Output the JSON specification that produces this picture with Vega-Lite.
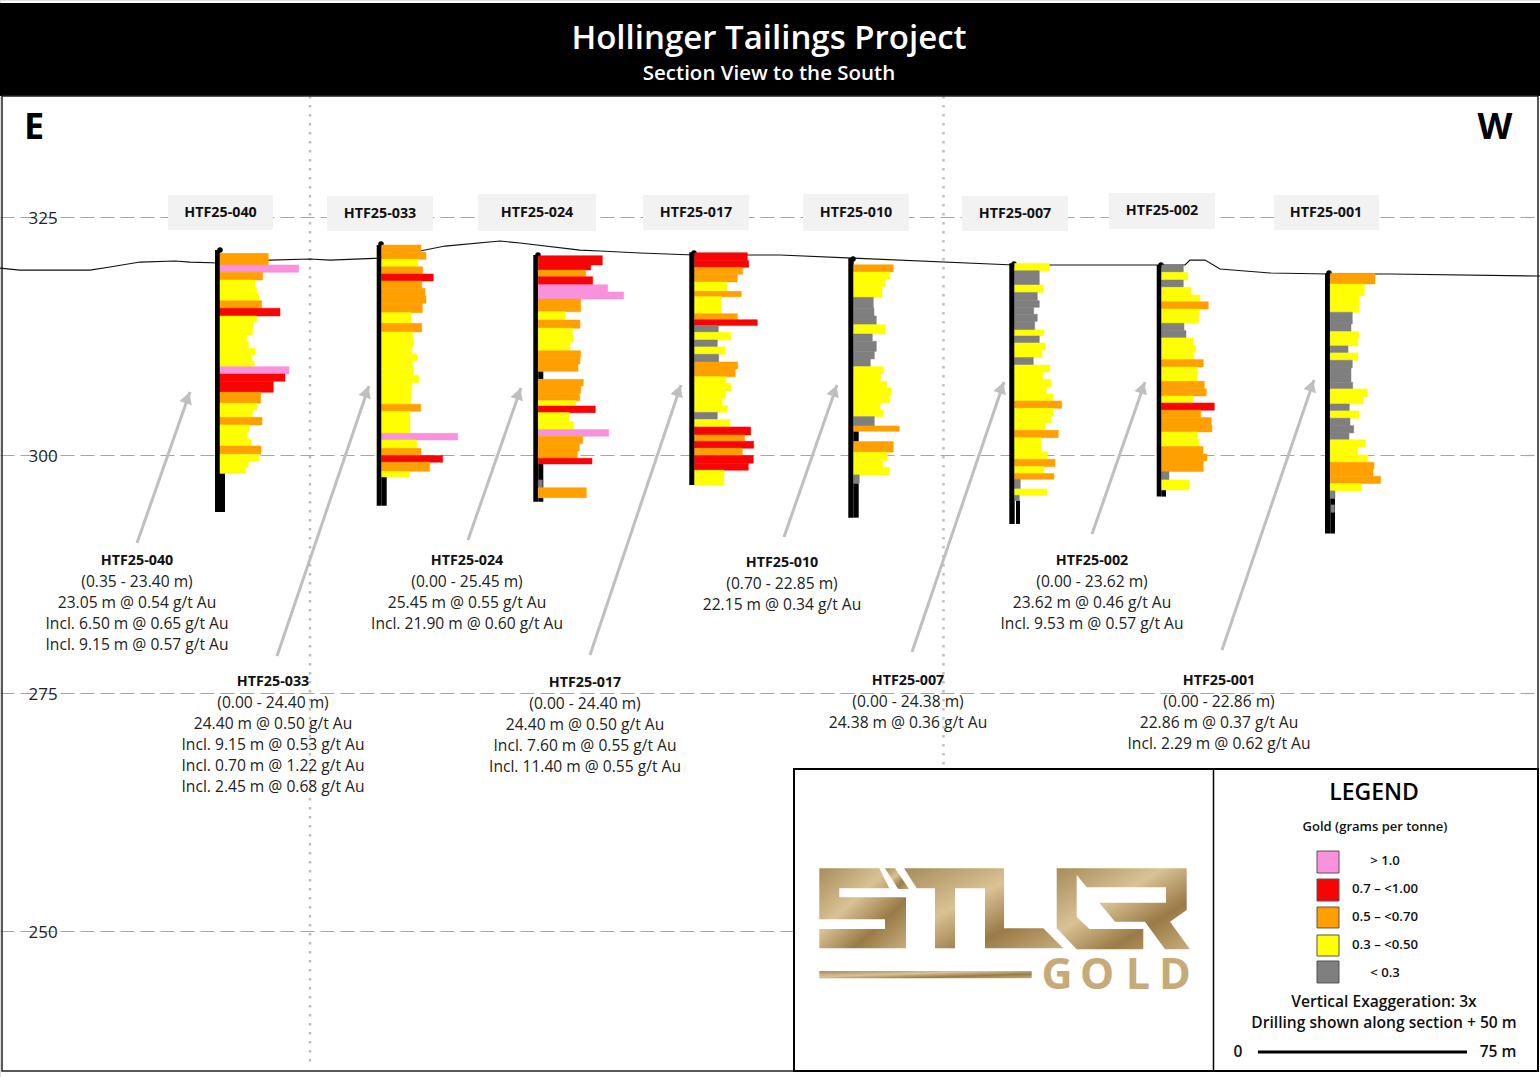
{"$schema":"https://vega.github.io/schema/vega-lite/v6.json","width":1540,"height":1077,"padding":0,"autosize":{"type":"none"},"background":"white",
"encoding":{"x":{"field":"x","type":"quantitative","scale":{"domain":[0,1540],"nice":false,"zero":false},"axis":null},"y":{"field":"e","type":"quantitative","scale":{"domain":[234.664,347.794],"nice":false,"zero":false},"axis":{"title":null,"values":[250,275,300,325],"orient":"left","domain":false,"ticks":false,"labels":true,"labelAlign":"left","labelPadding":-28,"labelOffset":1.5,"labelFont":"Open Sans","labelFontSize":17,"labelColor":"#222","grid":true,"gridColor":"#a6a6a6","gridWidth":1.2,"gridDash":[14,6]}}},
"layer":[
{"data":{"values":[{"x":310,"e":337.7,"e2":235.9},{"x":943.5,"e":337.7,"e2":267}]},"mark":{"type":"rule","color":"#bdbdbd","strokeWidth":2.5,"strokeDash":[2.5,6.5]},"encoding":{"y2":{"field":"e2"}}},
{"data":{"values":[{"x":0,"e":319.64},{"x":20,"e":319.43},{"x":90,"e":319.43},{"x":110,"e":319.75},{"x":140,"e":320.27},{"x":175,"e":320.38},{"x":190,"e":320.27},{"x":220,"e":320.17},{"x":270,"e":320.48},{"x":310,"e":320.59},{"x":330,"e":320.48},{"x":380,"e":320.69},{"x":395,"e":321.32},{"x":420,"e":321.43},{"x":445,"e":321.95},{"x":500,"e":322.48},{"x":520,"e":322.27},{"x":580,"e":321.53},{"x":600,"e":321.43},{"x":640,"e":321.22},{"x":694,"e":321.01},{"x":780,"e":321.01},{"x":853,"e":320.69},{"x":1014,"e":319.96},{"x":1160,"e":319.96},{"x":1185,"e":319.96},{"x":1190,"e":320.48},{"x":1205,"e":320.48},{"x":1220,"e":319.54},{"x":1270,"e":319.12},{"x":1329,"e":319.01},{"x":1390,"e":319.01},{"x":1540,"e":318.8}]},"mark":{"type":"line","color":"#111","strokeWidth":1.2}},
{"data":{"values":[{"x":168,"x2":273,"e":327.31,"e2":323.63},{"x":327,"x2":433,"e":327.21,"e2":323.53},{"x":478,"x2":596,"e":327.42,"e2":323.53},{"x":643,"x2":749,"e":327.31,"e2":323.63},{"x":803,"x2":909,"e":327.42,"e2":323.53},{"x":962,"x2":1068,"e":327.21,"e2":323.53},{"x":1109,"x2":1215,"e":327.52,"e2":323.74},{"x":1274,"x2":1379,"e":327.31,"e2":323.63}]},"mark":{"type":"rect","color":"#f2f2f2"},"encoding":{"x2":{"field":"x2"},"y2":{"field":"e2"}}},
{"data":{"values":[{"x":215,"x2":220,"e":321.53,"e2":294.01},{"x":220,"x2":225,"e":298.08,"e2":294.01},{"x":376.7,"x2":381.7,"e":322.06,"e2":294.67},{"x":381.7,"x2":386.7,"e":297.7,"e2":294.67},{"x":533.3,"x2":538.3,"e":321.01,"e2":295.09},{"x":538.3,"x2":543.3,"e":308.79,"e2":307.95},{"x":538.3,"x2":543.3,"e":299.06,"e2":296.57},{"x":538.3,"x2":543.3,"e":295.52,"e2":295.09},{"x":689.3,"x2":694.7,"e":321.3,"e2":296.86},{"x":848.3,"x2":853.7,"e":320.66,"e2":293.42},{"x":853.7,"x2":858.7,"e":302.49,"e2":301.41},{"x":853.7,"x2":858.7,"e":297.03,"e2":293.42},{"x":1009.3,"x2":1014.7,"e":320.13,"e2":292.76},{"x":1016,"x2":1020,"e":295.21,"e2":292.76},{"x":1156.7,"x2":1161.7,"e":319.96,"e2":295.63},{"x":1161.7,"x2":1166,"e":296.33,"e2":295.63},{"x":1325,"x2":1330.3,"e":319.09,"e2":291.75},{"x":1330.3,"x2":1335,"e":295.46,"e2":291.75}]},"mark":{"type":"rect","color":"#000"},"encoding":{"x2":{"field":"x2"},"y2":{"field":"e2"}}},
{"data":{"values":[{"x":220,"e":321.53},{"x":381,"e":322.16},{"x":538,"e":321.01},{"x":694,"e":321.22},{"x":853,"e":320.59},{"x":1014,"e":320.06},{"x":1161,"e":319.96},{"x":1329,"e":319.12}]},"mark":{"type":"point","filled":true,"color":"#000","size":30,"opacity":1}},
{"data":{"values":[
{"x":220,"x2":268.3,"e":321.18,"e2":319.96,"g":"0.5-0.7"},{"x":220,"x2":298.7,"e":319.96,"e2":319.19,"g":">1.0"},{"x":220,"x2":262.7,"e":319.19,"e2":318.38,"g":"0.5-0.7"},{"x":220,"x2":255,"e":318.38,"e2":317.51,"g":"0.3-0.5"},{"x":220,"x2":256.7,"e":317.51,"e2":316.91,"g":"0.3-0.5"},{"x":220,"x2":259,"e":316.91,"e2":316.21,"g":"0.3-0.5"},{"x":220,"x2":261.7,"e":316.21,"e2":315.41,"g":"0.5-0.7"},{"x":220,"x2":280,"e":315.41,"e2":314.6,"g":"0.7-1"},{"x":220,"x2":256.7,"e":314.6,"e2":314.01,"g":"0.3-0.5"},{"x":220,"x2":253.3,"e":314.01,"e2":313.31,"g":"0.3-0.5"},{"x":220,"x2":252.3,"e":313.31,"e2":312.61,"g":"0.3-0.5"},{"x":220,"x2":246.7,"e":312.61,"e2":311.91,"g":"0.3-0.5"},{"x":220,"x2":248.3,"e":311.91,"e2":311.21,"g":"0.3-0.5"},{"x":220,"x2":255,"e":311.21,"e2":310.51,"g":"0.3-0.5"},{"x":220,"x2":251.7,"e":310.51,"e2":309.88,"g":"0.3-0.5"},{"x":220,"x2":254.3,"e":309.88,"e2":309.28,"g":"0.3-0.5"},{"x":220,"x2":289,"e":309.28,"e2":308.51,"g":">1.0"},{"x":220,"x2":285,"e":308.51,"e2":307.74,"g":"0.7-1"},{"x":220,"x2":273.3,"e":307.74,"e2":306.59,"g":"0.7-1"},{"x":220,"x2":260.7,"e":306.59,"e2":305.43,"g":"0.5-0.7"},{"x":220,"x2":256.7,"e":305.43,"e2":304.73,"g":"0.3-0.5"},{"x":220,"x2":252.3,"e":304.73,"e2":303.96,"g":"0.3-0.5"},{"x":220,"x2":262,"e":303.96,"e2":303.16,"g":"0.5-0.7"},{"x":220,"x2":249.3,"e":303.16,"e2":302.46,"g":"0.3-0.5"},{"x":220,"x2":247.3,"e":302.46,"e2":301.68,"g":"0.3-0.5"},{"x":220,"x2":251,"e":301.68,"e2":300.95,"g":"0.3-0.5"},{"x":220,"x2":261,"e":300.95,"e2":300.08,"g":"0.5-0.7"},{"x":220,"x2":258.7,"e":300.08,"e2":299.38,"g":"0.3-0.5"},{"x":220,"x2":248.3,"e":299.38,"e2":298.68,"g":"0.3-0.5"},{"x":220,"x2":245.7,"e":298.68,"e2":298.08,"g":"0.3-0.5"},
{"x":381.7,"x2":421,"e":322.06,"e2":321.29,"g":"0.5-0.7"},{"x":381.7,"x2":426,"e":321.29,"e2":320.55,"g":"0.5-0.7"},{"x":381.7,"x2":417.7,"e":320.55,"e2":319.78,"g":"0.3-0.5"},{"x":381.7,"x2":422.7,"e":319.78,"e2":319.01,"g":"0.5-0.7"},{"x":381.7,"x2":433.3,"e":319.01,"e2":318.28,"g":"0.7-1"},{"x":381.7,"x2":421.7,"e":318.28,"e2":317.51,"g":"0.5-0.7"},{"x":381.7,"x2":425,"e":317.51,"e2":316.74,"g":"0.5-0.7"},{"x":381.7,"x2":426,"e":316.74,"e2":315.93,"g":"0.5-0.7"},{"x":381.7,"x2":422.3,"e":315.93,"e2":314.95,"g":"0.5-0.7"},{"x":381.7,"x2":411,"e":314.95,"e2":313.83,"g":"0.3-0.5"},{"x":381.7,"x2":421.7,"e":313.83,"e2":312.92,"g":"0.5-0.7"},{"x":381.7,"x2":412.7,"e":312.92,"e2":312.15,"g":"0.3-0.5"},{"x":381.7,"x2":413.3,"e":312.15,"e2":311.38,"g":"0.3-0.5"},{"x":381.7,"x2":412,"e":311.38,"e2":310.61,"g":"0.3-0.5"},{"x":381.7,"x2":416.7,"e":310.61,"e2":309.88,"g":"0.3-0.5"},{"x":381.7,"x2":412.3,"e":309.88,"e2":309.11,"g":"0.3-0.5"},{"x":381.7,"x2":413.3,"e":309.11,"e2":308.37,"g":"0.3-0.5"},{"x":381.7,"x2":418.7,"e":308.37,"e2":307.6,"g":"0.3-0.5"},{"x":381.7,"x2":411.7,"e":307.6,"e2":306.83,"g":"0.3-0.5"},{"x":381.7,"x2":410.7,"e":306.83,"e2":306.06,"g":"0.3-0.5"},{"x":381.7,"x2":410.7,"e":306.06,"e2":305.33,"g":"0.3-0.5"},{"x":381.7,"x2":420.7,"e":305.33,"e2":304.59,"g":"0.5-0.7"},{"x":381.7,"x2":410,"e":304.59,"e2":303.85,"g":"0.3-0.5"},{"x":381.7,"x2":410,"e":303.85,"e2":303.05,"g":"0.3-0.5"},{"x":381.7,"x2":410,"e":303.05,"e2":302.28,"g":"0.3-0.5"},{"x":381.7,"x2":457.7,"e":302.28,"e2":301.58,"g":">1.0"},{"x":381.7,"x2":416.7,"e":301.58,"e2":300.71,"g":"0.3-0.5"},{"x":381.7,"x2":421,"e":300.71,"e2":299.94,"g":"0.5-0.7"},{"x":381.7,"x2":442.7,"e":299.94,"e2":299.24,"g":"0.7-1"},{"x":381.7,"x2":429.7,"e":299.24,"e2":298.29,"g":"0.5-0.7"},{"x":381.7,"x2":409.3,"e":298.29,"e2":297.7,"g":"0.3-0.5"},
{"x":538.3,"x2":602.3,"e":320.94,"e2":319.96,"g":"0.7-1"},{"x":538.3,"x2":590.7,"e":319.96,"e2":319.43,"g":"0.7-1"},{"x":538.3,"x2":585.7,"e":319.43,"e2":318.73,"g":"0.5-0.7"},{"x":538.3,"x2":592.7,"e":318.73,"e2":317.89,"g":"0.7-1"},{"x":538.3,"x2":607.7,"e":317.89,"e2":317.12,"g":">1.0"},{"x":538.3,"x2":623.7,"e":317.12,"e2":316.38,"g":">1.0"},{"x":538.3,"x2":580.7,"e":316.38,"e2":315.05,"g":"0.5-0.7"},{"x":538.3,"x2":565,"e":315.05,"e2":314.18,"g":"0.3-0.5"},{"x":538.3,"x2":580,"e":314.18,"e2":313.31,"g":"0.5-0.7"},{"x":538.3,"x2":572.3,"e":313.31,"e2":312.61,"g":"0.3-0.5"},{"x":538.3,"x2":573.3,"e":312.61,"e2":311.84,"g":"0.3-0.5"},{"x":538.3,"x2":570,"e":311.84,"e2":310.96,"g":"0.3-0.5"},{"x":538.3,"x2":580.7,"e":310.96,"e2":310.26,"g":"0.5-0.7"},{"x":538.3,"x2":580,"e":310.26,"e2":309.56,"g":"0.5-0.7"},{"x":538.3,"x2":578,"e":309.56,"e2":308.79,"g":"0.5-0.7"},{"x":538.3,"x2":583.3,"e":307.95,"e2":307.25,"g":"0.5-0.7"},{"x":538.3,"x2":580.7,"e":307.25,"e2":306.48,"g":"0.5-0.7"},{"x":538.3,"x2":579.7,"e":306.48,"e2":305.71,"g":"0.5-0.7"},{"x":538.3,"x2":575.7,"e":305.71,"e2":305.15,"g":"0.3-0.5"},{"x":538.3,"x2":595.3,"e":305.15,"e2":304.45,"g":"0.7-1"},{"x":538.3,"x2":569.3,"e":304.45,"e2":303.51,"g":"0.3-0.5"},{"x":538.3,"x2":573.7,"e":303.51,"e2":302.67,"g":"0.3-0.5"},{"x":538.3,"x2":608.7,"e":302.67,"e2":301.97,"g":">1.0"},{"x":538.3,"x2":582.7,"e":301.97,"e2":301.19,"g":"0.5-0.7"},{"x":538.3,"x2":579.3,"e":301.19,"e2":300.42,"g":"0.5-0.7"},{"x":538.3,"x2":577.3,"e":300.42,"e2":299.65,"g":"0.5-0.7"},{"x":538.3,"x2":592,"e":299.65,"e2":299.06,"g":"0.7-1"},{"x":538.3,"x2":542.3,"e":297.38,"e2":296.57,"g":"<0.3"},{"x":538.3,"x2":586.3,"e":296.57,"e2":295.52,"g":"0.5-0.7"},
{"x":694.7,"x2":747.3,"e":321.25,"e2":320.41,"g":"0.7-1"},{"x":694.7,"x2":748.7,"e":320.41,"e2":319.71,"g":"0.7-1"},{"x":694.7,"x2":742.7,"e":319.71,"e2":318.98,"g":"0.5-0.7"},{"x":694.7,"x2":737.3,"e":318.98,"e2":318.17,"g":"0.5-0.7"},{"x":694.7,"x2":726.7,"e":318.17,"e2":317.19,"g":"0.3-0.5"},{"x":694.7,"x2":741.3,"e":317.19,"e2":316.63,"g":"0.5-0.7"},{"x":694.7,"x2":721.3,"e":316.63,"e2":315.69,"g":"0.3-0.5"},{"x":694.7,"x2":721.3,"e":315.69,"e2":314.85,"g":"0.3-0.5"},{"x":694.7,"x2":737.3,"e":314.85,"e2":314.22,"g":"0.5-0.7"},{"x":694.7,"x2":757.3,"e":314.22,"e2":313.59,"g":"0.7-1"},{"x":694.7,"x2":718.3,"e":313.59,"e2":312.89,"g":"<0.3"},{"x":694.7,"x2":730.7,"e":312.89,"e2":312.08,"g":"0.3-0.5"},{"x":694.7,"x2":717.3,"e":312.08,"e2":311.35,"g":"<0.3"},{"x":694.7,"x2":725,"e":311.35,"e2":310.58,"g":"0.3-0.5"},{"x":694.7,"x2":718.7,"e":310.58,"e2":309.77,"g":"<0.3"},{"x":694.7,"x2":737.7,"e":309.77,"e2":309.04,"g":"0.5-0.7"},{"x":694.7,"x2":735.3,"e":309.04,"e2":308.23,"g":"0.5-0.7"},{"x":694.7,"x2":726,"e":308.23,"e2":307.53,"g":"0.3-0.5"},{"x":694.7,"x2":730.7,"e":307.53,"e2":306.73,"g":"0.3-0.5"},{"x":694.7,"x2":725.7,"e":306.73,"e2":305.96,"g":"0.3-0.5"},{"x":694.7,"x2":722.3,"e":305.96,"e2":305.18,"g":"0.3-0.5"},{"x":694.7,"x2":727.3,"e":305.18,"e2":304.48,"g":"0.3-0.5"},{"x":694.7,"x2":717.3,"e":304.48,"e2":303.72,"g":"<0.3"},{"x":694.7,"x2":730,"e":303.72,"e2":302.95,"g":"0.3-0.5"},{"x":694.7,"x2":750.7,"e":302.95,"e2":302.11,"g":"0.7-1"},{"x":694.7,"x2":744.7,"e":302.11,"e2":301.44,"g":"0.5-0.7"},{"x":694.7,"x2":753.7,"e":301.44,"e2":300.71,"g":"0.7-1"},{"x":694.7,"x2":742.3,"e":300.71,"e2":299.94,"g":"0.5-0.7"},{"x":694.7,"x2":753.3,"e":299.94,"e2":299.14,"g":"0.7-1"},{"x":694.7,"x2":748.3,"e":299.14,"e2":298.4,"g":"0.7-1"},{"x":694.7,"x2":724,"e":298.4,"e2":296.86,"g":"0.3-0.5"},
{"x":853.7,"x2":893.3,"e":319.99,"e2":319.22,"g":"0.5-0.7"},{"x":853.7,"x2":890,"e":319.22,"e2":318.49,"g":"0.3-0.5"},{"x":853.7,"x2":885.3,"e":318.49,"e2":317.72,"g":"0.3-0.5"},{"x":853.7,"x2":882,"e":317.72,"e2":316.56,"g":"0.3-0.5"},{"x":853.7,"x2":873.3,"e":316.56,"e2":315.41,"g":"<0.3"},{"x":853.7,"x2":874,"e":315.41,"e2":314.6,"g":"<0.3"},{"x":853.7,"x2":876.3,"e":314.6,"e2":313.69,"g":"<0.3"},{"x":853.7,"x2":885.3,"e":313.69,"e2":312.71,"g":"0.3-0.5"},{"x":853.7,"x2":872.3,"e":312.71,"e2":311.94,"g":"<0.3"},{"x":853.7,"x2":876.3,"e":311.94,"e2":310.89,"g":"<0.3"},{"x":853.7,"x2":874.3,"e":310.89,"e2":310.09,"g":"<0.3"},{"x":853.7,"x2":870.3,"e":310.09,"e2":309.28,"g":"<0.3"},{"x":853.7,"x2":883.3,"e":309.28,"e2":308.51,"g":"0.3-0.5"},{"x":853.7,"x2":880.3,"e":308.51,"e2":307.74,"g":"0.3-0.5"},{"x":853.7,"x2":886.7,"e":307.74,"e2":307.04,"g":"0.3-0.5"},{"x":853.7,"x2":891.3,"e":307.04,"e2":306.27,"g":"0.3-0.5"},{"x":853.7,"x2":890,"e":306.27,"e2":305.5,"g":"0.3-0.5"},{"x":853.7,"x2":880,"e":305.5,"e2":304.73,"g":"0.3-0.5"},{"x":853.7,"x2":883,"e":304.73,"e2":304.03,"g":"0.3-0.5"},{"x":853.7,"x2":874.3,"e":304.03,"e2":303.05,"g":"<0.3"},{"x":853.7,"x2":899.3,"e":303.05,"e2":302.49,"g":"0.5-0.7"},{"x":853.7,"x2":893.3,"e":301.41,"e2":300.29,"g":"0.5-0.7"},{"x":853.7,"x2":887.3,"e":300.29,"e2":299.41,"g":"0.3-0.5"},{"x":853.7,"x2":882.7,"e":299.41,"e2":298.71,"g":"0.3-0.5"},{"x":853.7,"x2":889.3,"e":298.71,"e2":297.91,"g":"0.3-0.5"},{"x":853.7,"x2":859.3,"e":297.91,"e2":297.03,"g":"<0.3"},
{"x":1014.7,"x2":1049.3,"e":320.13,"e2":319.36,"g":"0.3-0.5"},{"x":1014.7,"x2":1039.3,"e":319.36,"e2":317.86,"g":"<0.3"},{"x":1014.7,"x2":1043.3,"e":317.86,"e2":317.08,"g":"0.3-0.5"},{"x":1014.7,"x2":1037.3,"e":317.08,"e2":316.21,"g":"<0.3"},{"x":1014.7,"x2":1039.3,"e":316.21,"e2":315.51,"g":"<0.3"},{"x":1014.7,"x2":1033.7,"e":315.51,"e2":314.78,"g":"<0.3"},{"x":1014.7,"x2":1037.3,"e":314.78,"e2":314.04,"g":"<0.3"},{"x":1014.7,"x2":1034.7,"e":314.04,"e2":313.13,"g":"<0.3"},{"x":1014.7,"x2":1043.7,"e":313.13,"e2":312.5,"g":"0.3-0.5"},{"x":1014.7,"x2":1039.3,"e":312.5,"e2":311.77,"g":"<0.3"},{"x":1014.7,"x2":1045.3,"e":311.77,"e2":311.03,"g":"0.3-0.5"},{"x":1014.7,"x2":1042,"e":311.03,"e2":310.23,"g":"0.3-0.5"},{"x":1014.7,"x2":1033.3,"e":310.23,"e2":309.46,"g":"<0.3"},{"x":1014.7,"x2":1050,"e":309.46,"e2":308.72,"g":"0.3-0.5"},{"x":1014.7,"x2":1042.7,"e":308.72,"e2":307.95,"g":"0.3-0.5"},{"x":1014.7,"x2":1051,"e":307.95,"e2":307.18,"g":"0.3-0.5"},{"x":1014.7,"x2":1046.3,"e":307.18,"e2":306.41,"g":"0.3-0.5"},{"x":1014.7,"x2":1052.7,"e":306.41,"e2":305.68,"g":"0.3-0.5"},{"x":1014.7,"x2":1061.7,"e":305.68,"e2":304.9,"g":"0.5-0.7"},{"x":1014.7,"x2":1053.3,"e":304.9,"e2":304.13,"g":"0.3-0.5"},{"x":1014.7,"x2":1051.3,"e":304.13,"e2":303.4,"g":"0.3-0.5"},{"x":1014.7,"x2":1045,"e":303.4,"e2":302.59,"g":"0.3-0.5"},{"x":1014.7,"x2":1058.3,"e":302.59,"e2":301.82,"g":"0.5-0.7"},{"x":1014.7,"x2":1041,"e":301.82,"e2":301.05,"g":"0.3-0.5"},{"x":1014.7,"x2":1041.7,"e":301.05,"e2":300.32,"g":"0.3-0.5"},{"x":1014.7,"x2":1047.3,"e":300.32,"e2":299.55,"g":"0.3-0.5"},{"x":1014.7,"x2":1055,"e":299.55,"e2":298.78,"g":"0.5-0.7"},{"x":1014.7,"x2":1044,"e":298.78,"e2":298.05,"g":"0.3-0.5"},{"x":1014.7,"x2":1054,"e":298.05,"e2":297.45,"g":"0.5-0.7"},{"x":1014.7,"x2":1020.3,"e":297.45,"e2":296.44,"g":"<0.3"},{"x":1014.7,"x2":1046.7,"e":296.44,"e2":295.77,"g":"0.3-0.5"},{"x":1014.7,"x2":1019.3,"e":295.77,"e2":295.21,"g":"<0.3"},
{"x":1161.7,"x2":1183.3,"e":319.96,"e2":319.19,"g":"<0.3"},{"x":1161.7,"x2":1187.7,"e":319.19,"e2":318.38,"g":"0.3-0.5"},{"x":1161.7,"x2":1183.3,"e":318.38,"e2":317.61,"g":"<0.3"},{"x":1161.7,"x2":1191,"e":317.61,"e2":316.81,"g":"0.3-0.5"},{"x":1161.7,"x2":1200,"e":316.81,"e2":316.11,"g":"0.3-0.5"},{"x":1161.7,"x2":1208.3,"e":316.11,"e2":315.34,"g":"0.5-0.7"},{"x":1161.7,"x2":1199.3,"e":315.34,"e2":314.54,"g":"0.3-0.5"},{"x":1161.7,"x2":1198.3,"e":314.54,"e2":313.84,"g":"0.3-0.5"},{"x":1161.7,"x2":1184,"e":313.84,"e2":313.07,"g":"<0.3"},{"x":1161.7,"x2":1186,"e":313.07,"e2":312.3,"g":"<0.3"},{"x":1161.7,"x2":1193.3,"e":312.3,"e2":311.56,"g":"0.3-0.5"},{"x":1161.7,"x2":1195.7,"e":311.56,"e2":310.79,"g":"0.3-0.5"},{"x":1161.7,"x2":1193.7,"e":310.79,"e2":310.02,"g":"0.3-0.5"},{"x":1161.7,"x2":1203.3,"e":310.02,"e2":309.25,"g":"0.5-0.7"},{"x":1161.7,"x2":1197.3,"e":309.25,"e2":308.48,"g":"0.3-0.5"},{"x":1161.7,"x2":1197.3,"e":308.48,"e2":307.74,"g":"0.3-0.5"},{"x":1161.7,"x2":1204.3,"e":307.74,"e2":306.97,"g":"0.5-0.7"},{"x":1161.7,"x2":1206.3,"e":306.97,"e2":306.2,"g":"0.5-0.7"},{"x":1161.7,"x2":1193.3,"e":306.2,"e2":305.47,"g":"0.3-0.5"},{"x":1161.7,"x2":1214.3,"e":305.47,"e2":304.7,"g":"0.7-1"},{"x":1161.7,"x2":1200.7,"e":304.7,"e2":303.93,"g":"0.5-0.7"},{"x":1161.7,"x2":1211.3,"e":303.93,"e2":303.16,"g":"0.5-0.7"},{"x":1161.7,"x2":1212,"e":303.16,"e2":302.42,"g":"0.5-0.7"},{"x":1161.7,"x2":1197.3,"e":302.42,"e2":301.65,"g":"0.3-0.5"},{"x":1161.7,"x2":1199.3,"e":301.65,"e2":300.88,"g":"0.3-0.5"},{"x":1161.7,"x2":1203,"e":300.88,"e2":300.11,"g":"0.5-0.7"},{"x":1161.7,"x2":1207,"e":300.11,"e2":299.38,"g":"0.5-0.7"},{"x":1161.7,"x2":1203.3,"e":299.38,"e2":298.26,"g":"0.5-0.7"},{"x":1161.7,"x2":1169,"e":298.26,"e2":297.38,"g":"<0.3"},{"x":1161.7,"x2":1189,"e":297.38,"e2":296.33,"g":"0.3-0.5"},
{"x":1330.3,"x2":1375,"e":319.09,"e2":317.96,"g":"0.5-0.7"},{"x":1330.3,"x2":1364.3,"e":317.96,"e2":316.74,"g":"0.3-0.5"},{"x":1330.3,"x2":1359.3,"e":316.74,"e2":315.83,"g":"0.3-0.5"},{"x":1330.3,"x2":1359,"e":315.83,"e2":314.99,"g":"0.3-0.5"},{"x":1330.3,"x2":1352.3,"e":314.99,"e2":313.77,"g":"<0.3"},{"x":1330.3,"x2":1351,"e":313.77,"e2":312.96,"g":"<0.3"},{"x":1330.3,"x2":1358.7,"e":312.96,"e2":312.26,"g":"0.3-0.5"},{"x":1330.3,"x2":1358,"e":312.26,"e2":311.46,"g":"0.3-0.5"},{"x":1330.3,"x2":1348,"e":311.46,"e2":310.72,"g":"<0.3"},{"x":1330.3,"x2":1358,"e":310.72,"e2":309.95,"g":"0.3-0.5"},{"x":1330.3,"x2":1352.3,"e":309.95,"e2":309.15,"g":"<0.3"},{"x":1330.3,"x2":1351,"e":309.15,"e2":308.41,"g":"<0.3"},{"x":1330.3,"x2":1351,"e":308.41,"e2":307.64,"g":"<0.3"},{"x":1330.3,"x2":1352.7,"e":307.64,"e2":306.94,"g":"<0.3"},{"x":1330.3,"x2":1367.3,"e":306.94,"e2":306.13,"g":"0.3-0.5"},{"x":1330.3,"x2":1363.3,"e":306.13,"e2":305.36,"g":"0.3-0.5"},{"x":1330.3,"x2":1349.3,"e":305.36,"e2":304.63,"g":"<0.3"},{"x":1330.3,"x2":1359,"e":304.63,"e2":303.86,"g":"0.3-0.5"},{"x":1330.3,"x2":1350,"e":303.86,"e2":303.09,"g":"<0.3"},{"x":1330.3,"x2":1353.7,"e":303.09,"e2":302.32,"g":"<0.3"},{"x":1330.3,"x2":1349,"e":302.32,"e2":301.59,"g":"<0.3"},{"x":1330.3,"x2":1365,"e":301.59,"e2":300.82,"g":"0.3-0.5"},{"x":1330.3,"x2":1357.3,"e":300.82,"e2":300.01,"g":"0.3-0.5"},{"x":1330.3,"x2":1367.7,"e":300.01,"e2":299.24,"g":"0.3-0.5"},{"x":1330.3,"x2":1374,"e":299.24,"e2":298.54,"g":"0.5-0.7"},{"x":1330.3,"x2":1373,"e":298.54,"e2":297.77,"g":"0.5-0.7"},{"x":1330.3,"x2":1380.7,"e":297.77,"e2":297,"g":"0.5-0.7"},{"x":1330.3,"x2":1361.7,"e":297,"e2":296.23,"g":"0.3-0.5"},{"x":1330.3,"x2":1335,"e":296.23,"e2":295.46,"g":"<0.3"},{"x":1331,"x2":1334.5,"e":294.76,"e2":293.98,"g":"<0.3"}
]},"mark":{"type":"rect","strokeWidth":0.5},"encoding":{"x2":{"field":"x2"},"y2":{"field":"e2"},"color":{"field":"g","type":"nominal","legend":null,"scale":{"domain":[">1.0","0.7-1","0.5-0.7","0.3-0.5","<0.3"],"range":["#f991dc","#f70505","#ffa000","#ffff00","#7f7f7f"]}},"stroke":{"field":"g","type":"nominal","legend":null,"scale":{"domain":[">1.0","0.7-1","0.5-0.7","0.3-0.5","<0.3"],"range":["#f991dc","#f70505","#ffa000","#ffff00","#7f7f7f"]}}}},
{"data":{"values":[{"x":137,"e":290.76,"x2":190,"e2":306.62},{"x":277,"e":278.89,"x2":369,"e2":307.25},{"x":468,"e":291.07,"x2":521,"e2":307.04},{"x":590,"e":279,"x2":681,"e2":307.35},{"x":784,"e":291.39,"x2":837,"e2":307.35},{"x":912,"e":279.31,"x2":1004,"e2":307.67},{"x":1092,"e":291.7,"x2":1145,"e2":307.67},{"x":1222,"e":279.52,"x2":1314,"e2":307.88}]},"mark":{"type":"rule","color":"#bfbfbf","strokeWidth":3},"encoding":{"x2":{"field":"x2"},"y2":{"field":"e2"}}},
{"data":{"values":[{"x":187.5,"e":306},{"x":366.5,"e":306.65},{"x":518.5,"e":306.44},{"x":678.5,"e":306.75},{"x":834.5,"e":306.75},{"x":1001.5,"e":307.07},{"x":1142.5,"e":307.07},{"x":1311.5,"e":307.28}]},"mark":{"type":"point","shape":"triangle-up","filled":true,"color":"#bfbfbf","size":170,"angle":19,"opacity":1}},
{"data":{"values":[{"x":220.5,"e":325.53,"t":"HTF25-040"},{"x":380,"e":325.43,"t":"HTF25-033"},{"x":537,"e":325.53,"t":"HTF25-024"},{"x":696,"e":325.53,"t":"HTF25-017"},{"x":856,"e":325.53,"t":"HTF25-010"},{"x":1015,"e":325.43,"t":"HTF25-007"},{"x":1162,"e":325.74,"t":"HTF25-002"},{"x":1326,"e":325.53,"t":"HTF25-001"},{"x":137,"e":288.97,"t":"HTF25-040"},{"x":273,"e":276.26,"t":"HTF25-033"},{"x":467,"e":288.97,"t":"HTF25-024"},{"x":585,"e":276.16,"t":"HTF25-017"},{"x":782,"e":288.76,"t":"HTF25-010"},{"x":908,"e":276.37,"t":"HTF25-007"},{"x":1092,"e":288.97,"t":"HTF25-002"},{"x":1219,"e":276.37,"t":"HTF25-001"}]},"mark":{"type":"text","font":"Open Sans","fontWeight":700,"fontSize":14.3,"color":"#111","align":"center","baseline":"middle","dy":1},"encoding":{"text":{"field":"t"}}},
{"data":{"values":[{"x":137,"e":286.76,"t":"(0.35 - 23.40 m)"},{"x":137,"e":284.56,"t":"23.05 m @ 0.54 g/t Au"},{"x":137,"e":282.35,"t":"Incl. 6.50 m @ 0.65 g/t Au"},{"x":137,"e":280.15,"t":"Incl. 9.15 m @ 0.57 g/t Au"},{"x":273,"e":274.05,"t":"(0.00 - 24.40 m)"},{"x":273,"e":271.85,"t":"24.40 m @ 0.50 g/t Au"},{"x":273,"e":269.64,"t":"Incl. 9.15 m @ 0.53 g/t Au"},{"x":273,"e":267.44,"t":"Incl. 0.70 m @ 1.22 g/t Au"},{"x":273,"e":265.23,"t":"Incl. 2.45 m @ 0.68 g/t Au"},{"x":467,"e":286.76,"t":"(0.00 - 25.45 m)"},{"x":467,"e":284.56,"t":"25.45 m @ 0.55 g/t Au"},{"x":467,"e":282.35,"t":"Incl. 21.90 m @ 0.60 g/t Au"},{"x":585,"e":273.95,"t":"(0.00 - 24.40 m)"},{"x":585,"e":271.74,"t":"24.40 m @ 0.50 g/t Au"},{"x":585,"e":269.54,"t":"Incl. 7.60 m @ 0.55 g/t Au"},{"x":585,"e":267.33,"t":"Incl. 11.40 m @ 0.55 g/t Au"},{"x":782,"e":286.55,"t":"(0.70 - 22.85 m)"},{"x":782,"e":284.35,"t":"22.15 m @ 0.34 g/t Au"},{"x":908,"e":274.16,"t":"(0.00 - 24.38 m)"},{"x":908,"e":271.95,"t":"24.38 m @ 0.36 g/t Au"},{"x":1092,"e":286.76,"t":"(0.00 - 23.62 m)"},{"x":1092,"e":284.56,"t":"23.62 m @ 0.46 g/t Au"},{"x":1092,"e":282.35,"t":"Incl. 9.53 m @ 0.57 g/t Au"},{"x":1219,"e":274.16,"t":"(0.00 - 22.86 m)"},{"x":1219,"e":271.95,"t":"22.86 m @ 0.37 g/t Au"},{"x":1219,"e":269.75,"t":"Incl. 2.29 m @ 0.62 g/t Au"}]},"mark":{"type":"text","font":"Open Sans","fontSize":15.6,"color":"#222","align":"center","baseline":"middle","dy":1},"encoding":{"text":{"field":"t"}}},
{"data":{"values":[{"x":0,"x2":1540,"e":347.48,"e2":337.71}]},"mark":{"type":"rect","color":"#000"},"encoding":{"x2":{"field":"x2"},"y2":{"field":"e2"}}},
{"data":{"values":[{"x":2,"x2":1538,"e":337.71,"e2":235.29}]},"mark":{"type":"rect","fill":null,"stroke":"#222","strokeWidth":1.5},"encoding":{"x2":{"field":"x2"},"y2":{"field":"e2"}}},
{"data":{"values":[{"x":794,"x2":1538,"e":267.02,"e2":235.29}]},"mark":{"type":"rect","fill":"#fff","stroke":"#000","strokeWidth":2},"encoding":{"x2":{"field":"x2"},"y2":{"field":"e2"}}},
{"data":{"values":[{"x":1213.5,"e":267.02,"e2":235.29}]},"mark":{"type":"rule","color":"#000","strokeWidth":1.5},"encoding":{"y2":{"field":"e2"}}},
{"data":{"values":[{"x":819.3,"e":256.59,"p":"S","s":1},{"x":879.3,"e":256.59,"p":"S","s":2},{"x":889.3,"e":254.49,"p":"S","s":3},{"x":839.3,"e":254.49,"p":"S","s":4},{"x":839.3,"e":253.54,"p":"S","s":5},{"x":906,"e":253.54,"p":"S","s":6},{"x":906,"e":248.18,"p":"S","s":7},{"x":819.3,"e":248.18,"p":"S","s":8},{"x":819.3,"e":250.21,"p":"S","s":9},{"x":885,"e":250.21,"p":"S","s":10},{"x":885,"e":251.23,"p":"S","s":11},{"x":819.3,"e":251.23,"p":"S","s":12},{"x":885,"e":256.59,"p":"A","s":1},{"x":895,"e":256.59,"p":"A","s":2},{"x":909,"e":254.41,"p":"A","s":3},{"x":898.3,"e":254.41,"p":"A","s":4},{"x":904,"e":256.59,"p":"T","s":1},{"x":1004,"e":256.59,"p":"T","s":2},{"x":1004,"e":250.28,"p":"T","s":3},{"x":1043.3,"e":250.28,"p":"T","s":4},{"x":1063.3,"e":248.18,"p":"T","s":5},{"x":985,"e":248.18,"p":"T","s":6},{"x":985,"e":254.49,"p":"T","s":7},{"x":955,"e":254.49,"p":"T","s":8},{"x":955,"e":248.18,"p":"T","s":9},{"x":935,"e":248.18,"p":"T","s":10},{"x":935,"e":254.49,"p":"T","s":11},{"x":916.7,"e":254.49,"p":"T","s":12},{"x":1056.7,"e":256.59,"p":"R","s":1},{"x":1186.7,"e":256.59,"p":"R","s":2},{"x":1186.7,"e":252.21,"p":"R","s":3},{"x":1170,"e":250.98,"p":"R","s":4},{"x":1190,"e":248.08,"p":"R","s":5},{"x":1165,"e":248.08,"p":"R","s":6},{"x":1145,"e":250.98,"p":"R","s":7},{"x":1115,"e":250.98,"p":"R","s":8},{"x":1099.3,"e":252.97,"p":"R","s":9},{"x":1166,"e":252.97,"p":"R","s":10},{"x":1166,"e":254.59,"p":"R","s":11},{"x":1086.7,"e":254.59,"p":"R","s":12},{"x":1076.7,"e":255.88,"p":"R","s":13},{"x":1076.7,"e":251.5,"p":"R","s":14},{"x":1089.3,"e":250.21,"p":"R","s":15},{"x":1143.3,"e":250.21,"p":"R","s":16},{"x":1143.3,"e":248.08,"p":"R","s":17},{"x":1076.7,"e":248.08,"p":"R","s":18},{"x":1056.7,"e":250.28,"p":"R","s":19},{"x":819.3,"e":245.8,"p":"B","s":1},{"x":1031.7,"e":245.8,"p":"B","s":2},{"x":1031.7,"e":245.03,"p":"B","s":3},{"x":819.3,"e":245.03,"p":"B","s":4}]},"mark":{"type":"line","strokeWidth":0,"fill":{"x1":0,"y1":0,"x2":1,"y2":1,"gradient":"linear","stops":[{"offset":0,"color":"#a88c5a"},{"offset":0.4,"color":"#d9c295"},{"offset":0.7,"color":"#9a7a45"},{"offset":1,"color":"#c8ad7e"}]}},"encoding":{"detail":{"field":"p"},"order":{"field":"s"}}},
{"data":{"values":[{"x":1057,"e":245.38,"t":"G"},{"x":1097,"e":245.38,"t":"O"},{"x":1138,"e":245.38,"t":"L"},{"x":1175,"e":245.38,"t":"D"}]},"mark":{"type":"text","font":"Open Sans","fontWeight":700,"fontSize":43,"color":"#c6aa78","align":"center","baseline":"middle","dy":1},"encoding":{"text":{"field":"t"}}},
{"data":{"values":[{"x":1317,"x2":1339,"e":258.4,"e2":256.09,"g":">1.0"},{"x":1317,"x2":1339,"e":255.46,"e2":253.15,"g":"0.7-1"},{"x":1317,"x2":1339,"e":252.52,"e2":250.32,"g":"0.5-0.7"},{"x":1317,"x2":1339,"e":249.58,"e2":247.37,"g":"0.3-0.5"},{"x":1317,"x2":1339,"e":246.85,"e2":244.54,"g":"<0.3"}]},"mark":{"type":"rect","stroke":"#555","strokeWidth":1},"encoding":{"x2":{"field":"x2"},"y2":{"field":"e2"},"color":{"field":"g","type":"nominal","legend":null,"scale":{"domain":[">1.0","0.7-1","0.5-0.7","0.3-0.5","<0.3"],"range":["#f991dc","#f70505","#ffa000","#ffff00","#7f7f7f"]}}}},
{"data":{"values":[{"x":1385,"e":257.46,"t":"> 1.0"},{"x":1385,"e":254.52,"t":"0.7 – <1.00"},{"x":1385,"e":251.58,"t":"0.5 – <0.70"},{"x":1385,"e":248.63,"t":"0.3 – <0.50"},{"x":1385,"e":245.69,"t":"< 0.3"}]},"mark":{"type":"text","font":"Open Sans","fontWeight":600,"fontSize":13.2,"color":"#111","align":"center","baseline":"middle","dy":1},"encoding":{"text":{"field":"t"}}},
{"data":{"values":[{"x":1374,"e":264.6,"t":"LEGEND"}]},"mark":{"type":"text","font":"Open Sans","fontWeight":600,"fontSize":23,"color":"#000","align":"center","baseline":"middle","dy":1},"encoding":{"text":{"field":"t"}}},
{"data":{"values":[{"x":1375,"e":261.03,"t":"Gold (grams per tonne)"}]},"mark":{"type":"text","font":"Open Sans","fontWeight":600,"fontSize":13,"color":"#111","align":"center","baseline":"middle","dy":1},"encoding":{"text":{"field":"t"}}},
{"data":{"values":[{"x":1384,"e":242.65,"t":"Vertical Exaggeration: 3x"},{"x":1384,"e":240.44,"t":"Drilling shown along section + 50 m"},{"x":1238,"e":237.39,"t":"0"},{"x":1498,"e":237.39,"t":"75 m"}]},"mark":{"type":"text","font":"Open Sans","fontWeight":600,"fontSize":15.6,"color":"#111","align":"center","baseline":"middle","dy":1},"encoding":{"text":{"field":"t"}}},
{"data":{"values":[{"x":1258,"x2":1467,"e":237.29}]},"mark":{"type":"rule","color":"#000","strokeWidth":3},"encoding":{"x2":{"field":"x2"}}},
{"data":{"values":[{"x":769,"e":343.91,"t":"Hollinger Tailings Project"}]},"mark":{"type":"text","font":"Open Sans","fontWeight":600,"fontSize":33,"color":"#fff","align":"center","baseline":"middle","dy":2},"encoding":{"text":{"field":"t"}}},
{"data":{"values":[{"x":769,"e":340.13,"t":"Section View to the South"}]},"mark":{"type":"text","font":"Open Sans","fontWeight":600,"fontSize":20.5,"color":"#fff","align":"center","baseline":"middle","dy":1},"encoding":{"text":{"field":"t"}}},
{"data":{"values":[{"x":34,"e":334.56,"t":"E"},{"x":1495,"e":334.56,"t":"W"}]},"mark":{"type":"text","font":"Open Sans","fontWeight":700,"fontSize":36,"color":"#000","align":"center","baseline":"middle","dy":2},"encoding":{"text":{"field":"t"}}}
]}
